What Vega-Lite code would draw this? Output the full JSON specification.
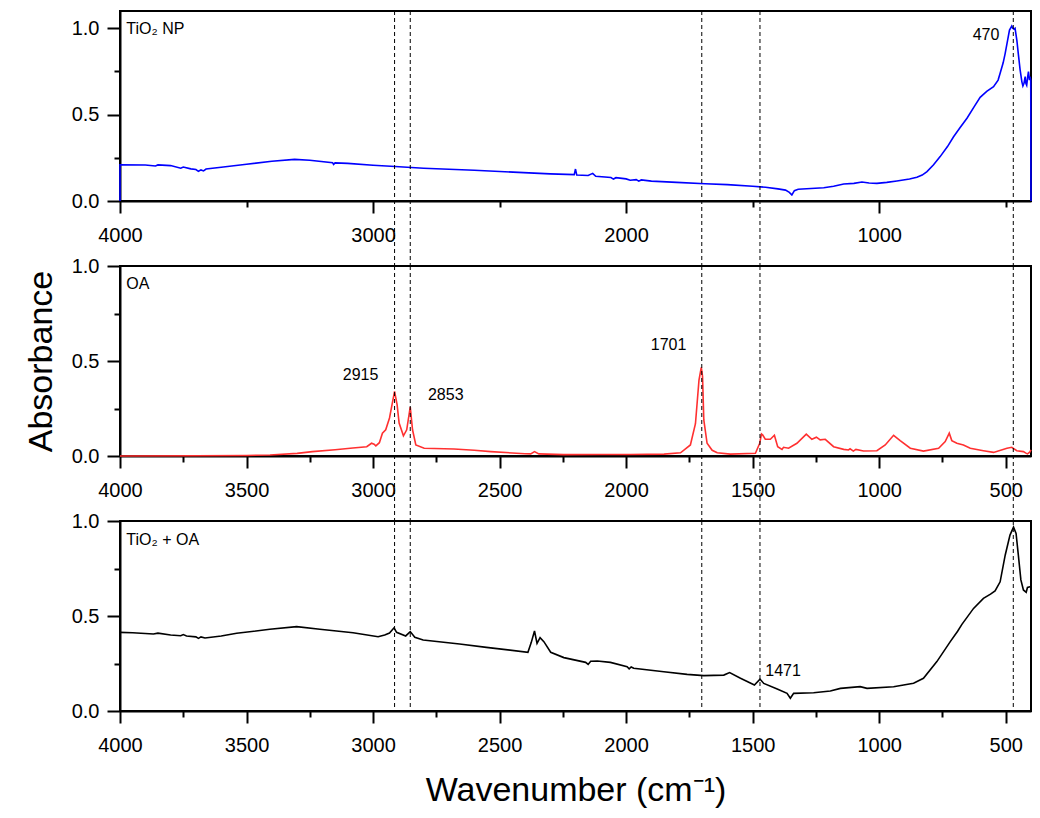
{
  "$schema": "https://vega.github.io/schema/vega-lite/v6.json",
  "padding": {"left": 23, "top": 9, "right": 10, "bottom": 5},
  "background": "white",
  "bounds": "flush",
  "spacing": 65,
  "config": {
    "font": "Liberation Sans",
    "view": {"stroke": "black", "strokeWidth": 2},
    "axis": {
      "domainColor": "black",
      "domainWidth": 2,
      "tickColor": "black",
      "tickWidth": 2,
      "labelFont": "Liberation Sans",
      "labelFontSize": 20,
      "labelColor": "black",
      "titleFont": "Liberation Sans",
      "titleFontSize": 34,
      "titleFontWeight": "normal",
      "titleColor": "black",
      "grid": false,
      "labelOverlap": false,
      "labelFlush": false
    },
    "axisX": {"labelPadding": 12},
    "axisY": {"labelPadding": 8}
  },
  "datasets": {
    "peaks": [{"wn": 2915}, {"wn": 2853}, {"wn": 1701}, {"wn": 1471}, {"wn": 470}],
    "tio2": [
      {"wn": 4000, "a": 0}, {"wn": 4000, "a": 0.21}, {"wn": 3900, "a": 0.208}, {"wn": 3860, "a": 0.203},
      {"wn": 3850, "a": 0.209}, {"wn": 3800, "a": 0.205}, {"wn": 3760, "a": 0.19}, {"wn": 3750, "a": 0.197},
      {"wn": 3720, "a": 0.186}, {"wn": 3700, "a": 0.182}, {"wn": 3690, "a": 0.172}, {"wn": 3680, "a": 0.18},
      {"wn": 3670, "a": 0.174}, {"wn": 3660, "a": 0.185},
      {"wn": 3600, "a": 0.195}, {"wn": 3500, "a": 0.213}, {"wn": 3400, "a": 0.23}, {"wn": 3310, "a": 0.241},
      {"wn": 3250, "a": 0.236}, {"wn": 3160, "a": 0.222}, {"wn": 3156, "a": 0.212}, {"wn": 3150, "a": 0.221},
      {"wn": 3100, "a": 0.218}, {"wn": 3000, "a": 0.207}, {"wn": 2913, "a": 0.2}, {"wn": 2800, "a": 0.19},
      {"wn": 2600, "a": 0.178}, {"wn": 2405, "a": 0.164}, {"wn": 2300, "a": 0.157}, {"wn": 2205, "a": 0.153},
      {"wn": 2200, "a": 0.185}, {"wn": 2195, "a": 0.15}, {"wn": 2150, "a": 0.148}, {"wn": 2132, "a": 0.16},
      {"wn": 2120, "a": 0.143}, {"wn": 2060, "a": 0.136}, {"wn": 2050, "a": 0.127}, {"wn": 2040, "a": 0.135},
      {"wn": 2000, "a": 0.128}, {"wn": 1984, "a": 0.12}, {"wn": 1960, "a": 0.124}, {"wn": 1950, "a": 0.115},
      {"wn": 1940, "a": 0.122}, {"wn": 1900, "a": 0.115},
      {"wn": 1800, "a": 0.108}, {"wn": 1688, "a": 0.1}, {"wn": 1600, "a": 0.095}, {"wn": 1500, "a": 0.085},
      {"wn": 1449, "a": 0.08}, {"wn": 1400, "a": 0.07}, {"wn": 1370, "a": 0.063}, {"wn": 1355, "a": 0.05},
      {"wn": 1345, "a": 0.035}, {"wn": 1335, "a": 0.06}, {"wn": 1320, "a": 0.068}, {"wn": 1219, "a": 0.077},
      {"wn": 1180, "a": 0.085}, {"wn": 1140, "a": 0.098}, {"wn": 1100, "a": 0.102}, {"wn": 1068, "a": 0.11},
      {"wn": 1040, "a": 0.104}, {"wn": 1009, "a": 0.102}, {"wn": 970, "a": 0.108}, {"wn": 930, "a": 0.116},
      {"wn": 880, "a": 0.127}, {"wn": 851, "a": 0.137}, {"wn": 830, "a": 0.15}, {"wn": 811, "a": 0.17},
      {"wn": 785, "a": 0.21}, {"wn": 759, "a": 0.257}, {"wn": 730, "a": 0.315}, {"wn": 706, "a": 0.372},
      {"wn": 680, "a": 0.425}, {"wn": 653, "a": 0.479}, {"wn": 625, "a": 0.545}, {"wn": 601, "a": 0.6},
      {"wn": 575, "a": 0.635}, {"wn": 548, "a": 0.662}, {"wn": 530, "a": 0.7}, {"wn": 522, "a": 0.74},
      {"wn": 510, "a": 0.8}, {"wn": 502, "a": 0.855}, {"wn": 490, "a": 0.95}, {"wn": 485, "a": 0.99},
      {"wn": 476, "a": 1.013}, {"wn": 472, "a": 1.0}, {"wn": 467, "a": 0.995}, {"wn": 463, "a": 1.0},
      {"wn": 456, "a": 0.932}, {"wn": 450, "a": 0.85}, {"wn": 443, "a": 0.759}, {"wn": 436, "a": 0.69},
      {"wn": 432, "a": 0.666}, {"wn": 428, "a": 0.68}, {"wn": 423, "a": 0.72}, {"wn": 420, "a": 0.68},
      {"wn": 417, "a": 0.67}, {"wn": 413, "a": 0.72}, {"wn": 410, "a": 0.749}, {"wn": 406, "a": 0.7},
      {"wn": 404, "a": 0.72}, {"wn": 401, "a": 0.7}, {"wn": 400, "a": 0}
    ],
    "oa": [
      {"wn": 4000, "a": 0}, {"wn": 3700, "a": 0.001}, {"wn": 3500, "a": 0.003}, {"wn": 3407, "a": 0.005},
      {"wn": 3300, "a": 0.014}, {"wn": 3240, "a": 0.023}, {"wn": 3150, "a": 0.033}, {"wn": 3080, "a": 0.042},
      {"wn": 3025, "a": 0.049}, {"wn": 3006, "a": 0.067}, {"wn": 2996, "a": 0.062}, {"wn": 2989, "a": 0.053},
      {"wn": 2975, "a": 0.07}, {"wn": 2963, "a": 0.12}, {"wn": 2950, "a": 0.138}, {"wn": 2935, "a": 0.2},
      {"wn": 2915, "a": 0.34}, {"wn": 2905, "a": 0.27}, {"wn": 2897, "a": 0.173}, {"wn": 2880, "a": 0.106},
      {"wn": 2867, "a": 0.138}, {"wn": 2853, "a": 0.258}, {"wn": 2844, "a": 0.138}, {"wn": 2831, "a": 0.058},
      {"wn": 2798, "a": 0.041}, {"wn": 2680, "a": 0.037}, {"wn": 2600, "a": 0.03}, {"wn": 2535, "a": 0.023},
      {"wn": 2400, "a": 0.012}, {"wn": 2377, "a": 0.011}, {"wn": 2362, "a": 0.023}, {"wn": 2345, "a": 0.011},
      {"wn": 2247, "a": 0.007}, {"wn": 2100, "a": 0.008}, {"wn": 1983, "a": 0.008}, {"wn": 1850, "a": 0.01},
      {"wn": 1785, "a": 0.017}, {"wn": 1746, "a": 0.058}, {"wn": 1726, "a": 0.17}, {"wn": 1712, "a": 0.4},
      {"wn": 1703, "a": 0.466}, {"wn": 1698, "a": 0.42}, {"wn": 1693, "a": 0.19}, {"wn": 1680, "a": 0.067},
      {"wn": 1660, "a": 0.03}, {"wn": 1640, "a": 0.017}, {"wn": 1588, "a": 0.01}, {"wn": 1489, "a": 0.014},
      {"wn": 1472, "a": 0.067}, {"wn": 1465, "a": 0.116}, {"wn": 1460, "a": 0.11}, {"wn": 1450, "a": 0.088},
      {"wn": 1430, "a": 0.088}, {"wn": 1414, "a": 0.109}, {"wn": 1401, "a": 0.049}, {"wn": 1384, "a": 0.035},
      {"wn": 1378, "a": 0.046}, {"wn": 1358, "a": 0.041}, {"wn": 1325, "a": 0.067}, {"wn": 1288, "a": 0.115},
      {"wn": 1266, "a": 0.088}, {"wn": 1248, "a": 0.099}, {"wn": 1233, "a": 0.085}, {"wn": 1213, "a": 0.088},
      {"wn": 1180, "a": 0.049}, {"wn": 1140, "a": 0.035}, {"wn": 1121, "a": 0.032}, {"wn": 1115, "a": 0.038},
      {"wn": 1102, "a": 0.026}, {"wn": 1092, "a": 0.035}, {"wn": 1062, "a": 0.026}, {"wn": 1009, "a": 0.028},
      {"wn": 976, "a": 0.058}, {"wn": 943, "a": 0.109}, {"wn": 917, "a": 0.081}, {"wn": 877, "a": 0.041},
      {"wn": 825, "a": 0.026}, {"wn": 765, "a": 0.041}, {"wn": 739, "a": 0.076}, {"wn": 723, "a": 0.12},
      {"wn": 713, "a": 0.081}, {"wn": 693, "a": 0.067}, {"wn": 667, "a": 0.058}, {"wn": 640, "a": 0.041},
      {"wn": 588, "a": 0.028}, {"wn": 548, "a": 0.019}, {"wn": 495, "a": 0.041}, {"wn": 476, "a": 0.046},
      {"wn": 456, "a": 0.028}, {"wn": 430, "a": 0.023}, {"wn": 420, "a": 0.015}, {"wn": 414, "a": 0.011},
      {"wn": 405, "a": 0.02}, {"wn": 400, "a": 0.032}
    ],
    "mix": [
      {"wn": 4000, "a": 0.414}, {"wn": 3950, "a": 0.412}, {"wn": 3868, "a": 0.405}, {"wn": 3850, "a": 0.41},
      {"wn": 3800, "a": 0.4}, {"wn": 3760, "a": 0.396}, {"wn": 3750, "a": 0.402},
      {"wn": 3737, "a": 0.395}, {"wn": 3700, "a": 0.39}, {"wn": 3690, "a": 0.382}, {"wn": 3680, "a": 0.39},
      {"wn": 3664, "a": 0.384}, {"wn": 3600, "a": 0.395},
      {"wn": 3539, "a": 0.409}, {"wn": 3408, "a": 0.43}, {"wn": 3302, "a": 0.444}, {"wn": 3210, "a": 0.43},
      {"wn": 3079, "a": 0.412}, {"wn": 2980, "a": 0.391}, {"wn": 2954, "a": 0.4}, {"wn": 2935, "a": 0.41},
      {"wn": 2917, "a": 0.438}, {"wn": 2907, "a": 0.414}, {"wn": 2871, "a": 0.395}, {"wn": 2853, "a": 0.418},
      {"wn": 2835, "a": 0.388}, {"wn": 2802, "a": 0.374}, {"wn": 2658, "a": 0.353}, {"wn": 2552, "a": 0.335},
      {"wn": 2388, "a": 0.309}, {"wn": 2375, "a": 0.36}, {"wn": 2362, "a": 0.421}, {"wn": 2352, "a": 0.356},
      {"wn": 2340, "a": 0.386}, {"wn": 2325, "a": 0.365}, {"wn": 2298, "a": 0.309}, {"wn": 2246, "a": 0.281},
      {"wn": 2160, "a": 0.256}, {"wn": 2150, "a": 0.245}, {"wn": 2140, "a": 0.262}, {"wn": 2114, "a": 0.263},
      {"wn": 2062, "a": 0.256}, {"wn": 1996, "a": 0.233}, {"wn": 1988, "a": 0.222}, {"wn": 1980, "a": 0.232},
      {"wn": 1970, "a": 0.225}, {"wn": 1851, "a": 0.207}, {"wn": 1759, "a": 0.193}, {"wn": 1693, "a": 0.186},
      {"wn": 1614, "a": 0.189}, {"wn": 1591, "a": 0.202}, {"wn": 1548, "a": 0.172}, {"wn": 1493, "a": 0.137},
      {"wn": 1471, "a": 0.168}, {"wn": 1456, "a": 0.145}, {"wn": 1403, "a": 0.116}, {"wn": 1364, "a": 0.093},
      {"wn": 1351, "a": 0.067}, {"wn": 1338, "a": 0.093}, {"wn": 1259, "a": 0.096}, {"wn": 1193, "a": 0.105},
      {"wn": 1153, "a": 0.119}, {"wn": 1075, "a": 0.128}, {"wn": 1048, "a": 0.119}, {"wn": 943, "a": 0.128},
      {"wn": 864, "a": 0.146}, {"wn": 825, "a": 0.172}, {"wn": 772, "a": 0.26}, {"wn": 719, "a": 0.365},
      {"wn": 690, "a": 0.42}, {"wn": 673, "a": 0.456}, {"wn": 627, "a": 0.54}, {"wn": 588, "a": 0.593},
      {"wn": 560, "a": 0.615}, {"wn": 542, "a": 0.632}, {"wn": 522, "a": 0.68}, {"wn": 502, "a": 0.82},
      {"wn": 483, "a": 0.926}, {"wn": 469, "a": 0.968}, {"wn": 459, "a": 0.935}, {"wn": 450, "a": 0.82},
      {"wn": 440, "a": 0.69}, {"wn": 430, "a": 0.637}, {"wn": 419, "a": 0.625}, {"wn": 414, "a": 0.65},
      {"wn": 400, "a": 0.655}
    ]
  },
  "vconcat": [
    {
      "width": 911,
      "height": 190,
      "layer": [
        {
          "data": {"name": "tio2"},
          "mark": {"type": "line", "color": "#0000ff", "strokeWidth": 1.6},
          "encoding": {
            "x": {
              "field": "wn", "type": "quantitative",
              "scale": {"domain": [4000, 400], "nice": false},
              "axis": {
                "title": null,
                "values": [4000, 3500, 3000, 2500, 2000, 1500, 1000, 500],
                "format": "d",
                "labelExpr": "datum.value % 1000 === 0 ? datum.label : ''",
                "tickSize": {"condition": {"test": "datum.value % 1000 === 0", "value": 12}, "value": 6}
              }
            },
            "y": {
              "field": "a", "type": "quantitative",
              "scale": {"domain": [0, 1.1], "nice": false},
              "axis": {
                "title": null,
                "values": [0, 0.25, 0.5, 0.75, 1],
                "format": ".1f",
                "labelExpr": "(datum.value * 4) % 2 === 0 ? datum.label : ''",
                "tickSize": {"condition": {"test": "(datum.value * 4) % 2 === 0", "value": 13}, "value": 6}
              }
            },
            "order": {"value": null}
          }
        },
        {
          "data": {"name": "peaks"},
          "mark": {"type": "rule", "color": "black", "strokeWidth": 1, "strokeDash": [4, 3]},
          "encoding": {
            "x": {"field": "wn", "type": "quantitative"},
            "y": {"datum": 1.1},
            "y2": {"datum": -0.382}
          }
        },
        {
          "data": {"values": [{"wn": 3975, "a": 0.967, "label": "TiO₂ NP"}]},
          "mark": {"type": "text", "align": "left", "baseline": "alphabetic", "fontSize": 16, "color": "black"},
          "encoding": {
            "x": {"field": "wn", "type": "quantitative"},
            "y": {"field": "a", "type": "quantitative"},
            "text": {"field": "label"}
          }
        },
        {
          "data": {"values": [{"wn": 525, "a": 0.932, "label": "470"}]},
          "mark": {"type": "text", "align": "right", "baseline": "alphabetic", "fontSize": 16, "color": "black"},
          "encoding": {
            "x": {"field": "wn", "type": "quantitative"},
            "y": {"field": "a", "type": "quantitative"},
            "text": {"field": "label"}
          }
        }
      ]
    },
    {
      "width": 911,
      "height": 190,
      "layer": [
        {
          "data": {"name": "oa"},
          "mark": {"type": "line", "color": "#ff3030", "strokeWidth": 1.6},
          "encoding": {
            "x": {
              "field": "wn", "type": "quantitative",
              "scale": {"domain": [4000, 400], "nice": false},
              "axis": {
                "title": null,
                "values": [4000, 3750, 3500, 3250, 3000, 2750, 2500, 2250, 2000, 1750, 1500, 1250, 1000, 750, 500],
                "format": "d",
                "labelExpr": "datum.value % 500 === 0 ? datum.label : ''",
                "tickSize": {"condition": {"test": "datum.value % 500 === 0", "value": 12}, "value": 6}
              }
            },
            "y": {
              "field": "a", "type": "quantitative",
              "scale": {"domain": [0, 1], "nice": false},
              "axis": {
                "title": "Absorbance",
                "titlePadding": 13,
                "values": [0, 0.25, 0.5, 0.75, 1],
                "format": ".1f",
                "labelExpr": "(datum.value * 4) % 2 === 0 ? datum.label : ''",
                "tickSize": {"condition": {"test": "(datum.value * 4) % 2 === 0", "value": 13}, "value": 6}
              }
            },
            "order": {"value": null}
          }
        },
        {
          "data": {"name": "peaks"},
          "mark": {"type": "rule", "color": "black", "strokeWidth": 1, "strokeDash": [4, 3]},
          "encoding": {
            "x": {"field": "wn", "type": "quantitative"},
            "y": {"datum": 1},
            "y2": {"datum": -0.344}
          }
        },
        {
          "data": {"values": [{"wn": 3975, "a": 0.878, "label": "OA"}]},
          "mark": {"type": "text", "align": "left", "baseline": "alphabetic", "fontSize": 16, "color": "black"},
          "encoding": {
            "x": {"field": "wn", "type": "quantitative"},
            "y": {"field": "a", "type": "quantitative"},
            "text": {"field": "label"}
          }
        },
        {
          "data": {"values": [
            {"wn": 2979, "a": 0.402, "label": "2915"},
            {"wn": 1762, "a": 0.557, "label": "1701"}
          ]},
          "mark": {"type": "text", "align": "right", "baseline": "alphabetic", "fontSize": 16, "color": "black"},
          "encoding": {
            "x": {"field": "wn", "type": "quantitative"},
            "y": {"field": "a", "type": "quantitative"},
            "text": {"field": "label"}
          }
        },
        {
          "data": {"values": [{"wn": 2783, "a": 0.296, "label": "2853"}]},
          "mark": {"type": "text", "align": "left", "baseline": "alphabetic", "fontSize": 16, "color": "black"},
          "encoding": {
            "x": {"field": "wn", "type": "quantitative"},
            "y": {"field": "a", "type": "quantitative"},
            "text": {"field": "label"}
          }
        }
      ]
    },
    {
      "width": 911,
      "height": 190,
      "layer": [
        {
          "data": {"name": "mix"},
          "mark": {"type": "line", "color": "black", "strokeWidth": 1.6},
          "encoding": {
            "x": {
              "field": "wn", "type": "quantitative",
              "scale": {"domain": [4000, 400], "nice": false},
              "axis": {
                "title": "Wavenumber (cm⁻¹)",
                "titlePadding": 18,
                "values": [4000, 3750, 3500, 3250, 3000, 2750, 2500, 2250, 2000, 1750, 1500, 1250, 1000, 750, 500],
                "format": "d",
                "labelExpr": "datum.value % 500 === 0 ? datum.label : ''",
                "tickSize": {"condition": {"test": "datum.value % 500 === 0", "value": 12}, "value": 6}
              }
            },
            "y": {
              "field": "a", "type": "quantitative",
              "scale": {"domain": [0, 1], "nice": false},
              "axis": {
                "title": null,
                "values": [0, 0.25, 0.5, 0.75, 1],
                "format": ".1f",
                "labelExpr": "(datum.value * 4) % 2 === 0 ? datum.label : ''",
                "tickSize": {"condition": {"test": "(datum.value * 4) % 2 === 0", "value": 13}, "value": 6}
              }
            },
            "order": {"value": null}
          }
        },
        {
          "data": {"name": "peaks"},
          "mark": {"type": "rule", "color": "black", "strokeWidth": 1, "strokeDash": [4, 3]},
          "encoding": {
            "x": {"field": "wn", "type": "quantitative"},
            "y": {"datum": 1},
            "y2": {"datum": 0}
          }
        },
        {
          "data": {"values": [{"wn": 3975, "a": 0.874, "label": "TiO₂ + OA"}]},
          "mark": {"type": "text", "align": "left", "baseline": "alphabetic", "fontSize": 16, "color": "black"},
          "encoding": {
            "x": {"field": "wn", "type": "quantitative"},
            "y": {"field": "a", "type": "quantitative"},
            "text": {"field": "label"}
          }
        },
        {
          "data": {"values": [{"wn": 1450, "a": 0.184, "label": "1471"}]},
          "mark": {"type": "text", "align": "left", "baseline": "alphabetic", "fontSize": 16, "color": "black"},
          "encoding": {
            "x": {"field": "wn", "type": "quantitative"},
            "y": {"field": "a", "type": "quantitative"},
            "text": {"field": "label"}
          }
        }
      ]
    }
  ]
}
